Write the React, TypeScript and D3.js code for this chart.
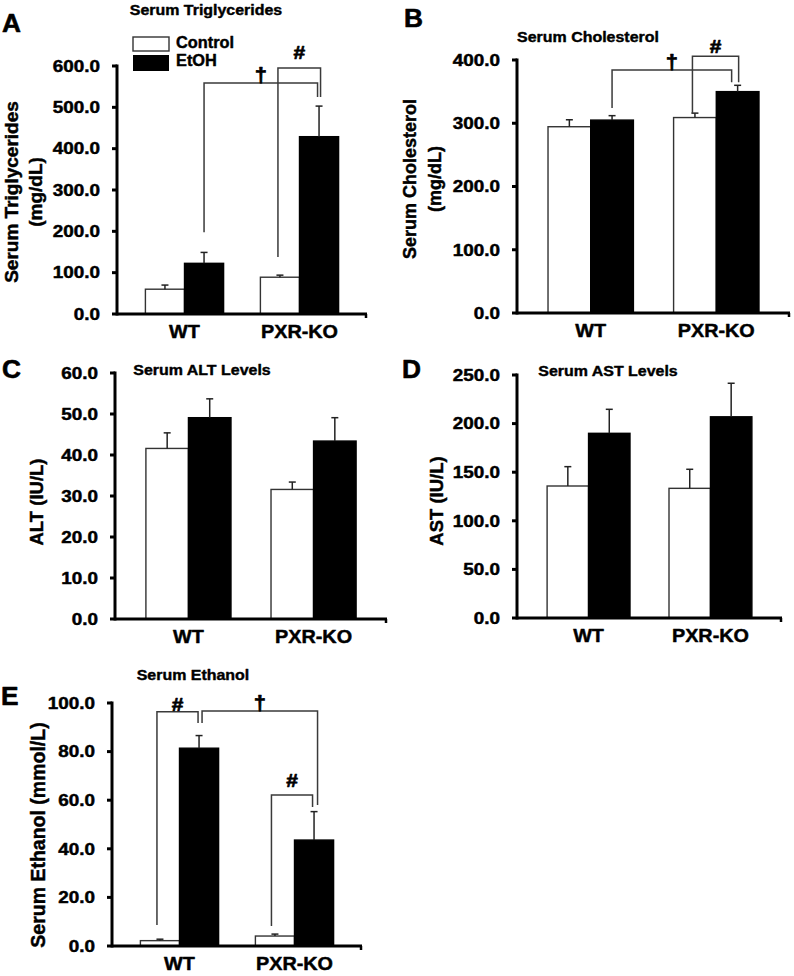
import React from "react";
import * as d3 from "d3";

const groups = ["WT", "PXR-KO"];
const seriesNames = ["Control", "EtOH"];

// A: Serum Triglycerides (mg/dL)
const tgControl = [60, 89];
const tgControlErr = [10, 5];
const tgEtoh = [122.6, 429];
const tgEtohErr = [26.4, 74];
const tgTicks = [0, 100, 200, 300, 400, 500, 600];

// B: Serum Cholesterol (mg/dL)
const chControl = [294.5, 309];
const chControlErr = [11, 7];
const chEtoh = [305, 350];
const chEtohErr = [7, 10];
const chTicks = [0, 100, 200, 300, 400];

// C: ALT (IU/L)
const altControl = [41.6, 31.6];
const altControlErr = [3.8, 1.8];
const altEtoh = [49.1, 43.4];
const altEtohErr = [4.6, 5.7];
const altTicks = [0, 10, 20, 30, 40, 50, 60];

// D: AST (IU/L)
const astControl = [135.8, 133.4];
const astControlErr = [19.9, 19.6];
const astEtoh = [190, 207];
const astEtohErr = [24.7, 34.5];
const astTicks = [0, 50, 100, 150, 200, 250];

// E: Serum Ethanol (mmol/L)
const etControl = [2.2, 4.1];
const etControlErr = [0.6, 0.8];
const etEtoh = [81.4, 43.6];
const etEtohErr = [5.2, 11.7];
const etTicks = [0, 20, 40, 60, 80, 100];

// significance brackets: [fromGroup, fromSeries] -> [toGroup, toSeries], values in data units
const tgBrackets = [
  { sym: "†", from: [0, 1], to: [1, 1], top: 559, leftEnd: 198, rightEnd: 525 },
  { sym: "#", from: [1, 0], to: [1, 1], top: 595, leftEnd: 138, rightEnd: 525 },
];
const chBrackets = [
  { sym: "†", from: [0, 1], to: [1, 1], top: 384, leftEnd: 324, rightEnd: 365 },
  { sym: "#", from: [1, 0], to: [1, 1], top: 406, leftEnd: 316, rightEnd: 365 },
];
const etBrackets = [
  { sym: "#", from: [0, 0], to: [0, 1], top: 96.4, leftEnd: 8.6, rightEnd: 91.8 },
  { sym: "†", from: [0, 1], to: [1, 1], top: 96.7, leftEnd: 91.8, rightEnd: 58 },
  { sym: "#", from: [1, 0], to: [1, 1], top: 62.1, leftEnd: 8.2, rightEnd: 57.2 },
];

const FONT = "'Liberation Sans', Arial, Helvetica, sans-serif";
const SX = 1.18;

type TProps = {
  x: number; y: number; size: number; sx?: number; anchor?: string;
  rotate?: boolean; dy?: string; children: React.ReactNode; fill?: string; heavy?: number;
};
function T({ x, y, size, sx = SX, anchor = "middle", rotate = false, dy, children, fill = "#000", heavy = 0.45 }: TProps) {
  return (
    <text
      transform={`translate(${x},${y}) scale(${sx},1)${rotate ? " rotate(-90)" : ""}`}
      fontSize={size}
      fontWeight="bold"
      fontFamily={FONT}
      textAnchor={anchor}
      dy={dy}
      fill={fill}
      stroke={fill}
      strokeWidth={heavy}
      strokeLinejoin="round"
    >
      {children}
    </text>
  );
}

type Layout = { axisX: number; xEnd: number; yBottom: number; yTop: number };
type PanelProps = {
  layout: Layout;
  ticks: number[];
  control: number[]; controlErr: number[];
  etoh: number[]; etohErr: number[];
  brackets?: typeof tgBrackets;
  nudges?: number[][];
  symOffsets?: number[];
  title: string; titleX: number; titleY: number;
  yLabel: string[]; yLabelX: number[]; yLabelY: number; yLabelSize: number;
  letter: string; letterX: number; letterY: number;
};

function Panel(p: PanelProps) {
  const { layout } = p;
  const y = d3.scaleLinear().domain([0, p.ticks[p.ticks.length - 1]]).range([layout.yBottom, layout.yTop]);
  const gx = d3.scaleBand<string>().domain(groups).range([layout.axisX, layout.xEnd]).paddingInner(0.32).paddingOuter(0.247);
  const bx = d3.scaleBand<string>().domain(seriesNames).range([0, gx.bandwidth()]);
  const vals = [p.control, p.etoh];
  const errs = [p.controlErr, p.etohErr];
  const fmt = d3.format(".1f");
  const center = (g: number, s: number) => (gx(groups[g]) as number) + (bx(seriesNames[s]) as number) + bx.bandwidth() / 2;

  return (
    <g>
      {/* bars */}
      {groups.map((g, gi) =>
        seriesNames.map((s, si) => {
          const x0 = (gx(g) as number) + (bx(s) as number);
          const v = vals[si][gi];
          return (
            <rect
              key={g + s}
              x={x0}
              y={y(v)}
              width={bx.bandwidth()}
              height={layout.yBottom - y(v)}
              fill={si === 0 ? "#fff" : "#000"}
              stroke={si === 0 ? "#333" : "#000"}
              strokeWidth={1.4}
            />
          );
        })
      )}
      {/* error bars */}
      {groups.map((g, gi) =>
        seriesNames.map((s, si) => {
          const cx = center(gi, si);
          const v = vals[si][gi];
          const e = errs[si][gi];
          return (
            <g key={"e" + g + s} stroke="#222" strokeWidth={1.5}>
              <line x1={cx} x2={cx} y1={y(v)} y2={y(v + e)} />
              <line x1={cx - 3.5} x2={cx + 3.5} y1={y(v + e)} y2={y(v + e)} />
            </g>
          );
        })
      )}
      {/* brackets */}
      {(p.brackets || []).map((b, i) => {
        const n = p.nudges ? p.nudges[i] : [0, 0];
        const x1 = center(b.from[0], b.from[1]) + n[0];
        const x2 = center(b.to[0], b.to[1]) + n[1];
        const yt = y(b.top);
        const symY = yt - (b.sym === "†" ? 1 : (p.symOffsets ? p.symOffsets[i] : 6));
        return (
          <g key={"b" + i}>
            <path
              d={`M${x1},${y(b.leftEnd)} V${yt} H${x2} V${y(b.rightEnd)}`}
              fill="none"
              stroke="#3a3a3a"
              strokeWidth={1.5}
            />
            <T x={(x1 + x2) / 2} y={symY} size={b.sym === "†" ? 20 : 19} sx={1.1} heavy={0.7}>
              {b.sym}
            </T>
          </g>
        );
      })}
      {/* y axis */}
      <line x1={layout.axisX} x2={layout.axisX} y1={layout.yBottom + 1.5} y2={layout.yTop - 1.5} stroke="#000" strokeWidth={3} />
      {p.ticks.map((t) => (
        <g key={"t" + t}>
          <line x1={layout.axisX - 5} x2={layout.axisX} y1={y(t)} y2={y(t)} stroke="#000" strokeWidth={3} />
          <T x={layout.axisX - 17} y={y(t)} size={16} anchor="end" dy="0.36em">
            {fmt(t)}
          </T>
        </g>
      ))}
      {/* x axis */}
      <line x1={layout.axisX} x2={layout.xEnd} y1={layout.yBottom} y2={layout.yBottom} stroke="#000" strokeWidth={3} />
      <line x1={layout.xEnd - 1} x2={layout.xEnd - 1} y1={layout.yBottom} y2={layout.yBottom + 4} stroke="#000" strokeWidth={2.5} />
      {groups.map((g) => (
        <T key={"x" + g} x={(gx(g) as number) + gx.bandwidth() / 2} y={layout.yBottom + 24} size={18} sx={1.1}>
          {g}
        </T>
      ))}
      {/* title */}
      <T x={p.titleX} y={p.titleY} size={14} sx={1.14} heavy={0.4}>
        {p.title}
      </T>
      {/* y label */}
      {p.yLabel.map((l, i) => (
        <T key={"yl" + i} x={p.yLabelX[i]} y={p.yLabelY} size={p.yLabelSize} sx={1.0} rotate dy="0.36em">
          {l}
        </T>
      ))}
      {/* panel letter */}
      <T x={p.letterX} y={p.letterY} size={25} sx={1.05} anchor="start" heavy={0.6}>
        {p.letter}
      </T>
    </g>
  );
}

export default function App() {
  return (
    <svg
      width={794}
      height={976}
      viewBox="0 0 794 976"
      style={{ position: "absolute", left: 0, top: 0, background: "#fff" }}
    >
      <rect x={0} y={0} width={794} height={976} fill="#fff" />
      <Panel
        layout={{ axisX: 117, xEnd: 367, yBottom: 314, yTop: 66 }}
        ticks={tgTicks}
        control={tgControl} controlErr={tgControlErr}
        etoh={tgEtoh} etohErr={tgEtohErr}
        brackets={tgBrackets}
        nudges={[[0, -1.5], [-2, 1.5]]}
        symOffsets={[0, 9]}
        title="Serum Triglycerides" titleX={206} titleY={15}
        yLabel={["Serum Triglycerides", "(mg/dL)"]} yLabelX={[11, 35]} yLabelY={192} yLabelSize={19}
        letter="A" letterX={2} letterY={32}
      />
      <Panel
        layout={{ axisX: 517, xEnd: 790, yBottom: 313, yTop: 60 }}
        ticks={chTicks}
        control={chControl} controlErr={chControlErr}
        etoh={chEtoh} etohErr={chEtohErr}
        brackets={chBrackets}
        nudges={[[0, -6], [-2.5, 1]]}
        symOffsets={[0, 3]}
        title="Serum Cholesterol" titleX={588} titleY={42}
        yLabel={["Serum Cholesterol", "(mg/dL)"]} yLabelX={[410, 435]} yLabelY={179} yLabelSize={18}
        letter="B" letterX={404} letterY={27}
      />
      <Panel
        layout={{ axisX: 115, xEnd: 387, yBottom: 619, yTop: 373 }}
        ticks={altTicks}
        control={altControl} controlErr={altControlErr}
        etoh={altEtoh} etohErr={altEtohErr}
        title="Serum ALT Levels" titleX={202} titleY={375}
        yLabel={["ALT (IU/L)"]} yLabelX={[36]} yLabelY={502} yLabelSize={18.5}
        letter="C" letterX={2} letterY={378}
      />
      <Panel
        layout={{ axisX: 517, xEnd: 782, yBottom: 618, yTop: 375 }}
        ticks={astTicks}
        control={astControl} controlErr={astControlErr}
        etoh={astEtoh} etohErr={astEtohErr}
        title="Serum AST Levels" titleX={608} titleY={376}
        yLabel={["AST (IU/L)"]} yLabelX={[436]} yLabelY={501} yLabelSize={18.5}
        letter="D" letterX={402} letterY={378}
      />
      <Panel
        layout={{ axisX: 112, xEnd: 362, yBottom: 946, yTop: 703 }}
        ticks={etTicks}
        control={etControl} controlErr={etControlErr}
        etoh={etEtoh} etohErr={etEtohErr}
        brackets={etBrackets}
        nudges={[[-3, -1], [3, 3.5], [-3.5, -1.5]]}
        symOffsets={[1, 0, 8]}
        title="Serum Ethanol" titleX={193} titleY={680}
        yLabel={["Serum Ethanol (mmol/L)"]} yLabelX={[38]} yLabelY={835} yLabelSize={19.5}
        letter="E" letterX={1} letterY={705}
      />
      {/* legend (panel A) */}
      <rect x={133} y={37} width={36} height={14} fill="#fff" stroke="#333" strokeWidth={1.4} />
      <rect x={133} y={55} width={36} height={16} fill="#000" />
      <T x={176} y={48} size={16} sx={1.02} anchor="start">{seriesNames[0]}</T>
      <T x={176} y={66} size={16} sx={1.02} anchor="start">{seriesNames[1]}</T>
    </svg>
  );
}
